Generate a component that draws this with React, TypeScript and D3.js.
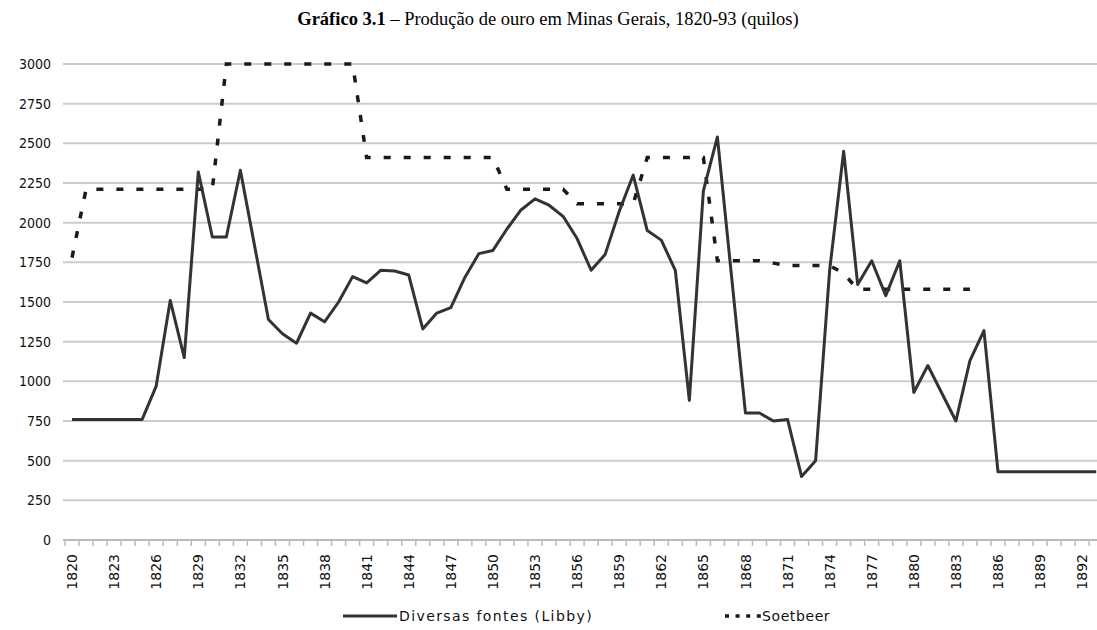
import React from 'react';
import * as d3 from 'd3';

// Years on the category axis
const years = d3.range(1820, 1894);

// Diversas fontes (Libby), kilos, 1820-1893
const libby = [
  760, 760, 760, 760, 760, 760, 970, 1510, 1150, 2320,
  1910, 1910, 2330, 1860, 1390, 1300, 1240, 1430, 1375, 1500,
  1660, 1620, 1700, 1695, 1670, 1330, 1430, 1465, 1655, 1805,
  1825, 1960, 2080, 2150, 2110, 2040, 1900, 1700, 1800, 2070,
  2300, 1950, 1890, 1700, 880, 2200, 2540, 1670, 800, 800,
  750, 760, 400, 500, 1700, 2450, 1610, 1760, 1540, 1760,
  930, 1100, 925, 750, 1130, 1320, 430, 430, 430, 430,
  430, 430, 430, 430,
];

// Soetbeer, kilos, 1820-1884 (no data afterwards)
const soetbeer: (number | null)[] = [
  1780, 2210, 2210, 2210, 2210, 2210, 2210, 2210, 2210, 2210,
  2210, 3000, 3000, 3000, 3000, 3000, 3000, 3000, 3000, 3000,
  3000, 2410, 2410, 2410, 2410, 2410, 2410, 2410, 2410, 2410,
  2410, 2210, 2210, 2210, 2210, 2210, 2120, 2120, 2120, 2120,
  2120, 2410, 2410, 2410, 2410, 2410, 1760, 1760, 1760, 1760,
  1745, 1730, 1730, 1730, 1730, 1680, 1580, 1580, 1580, 1580,
  1580, 1580, 1580, 1580, 1580,
];

const yTicks = d3.range(0, 3001, 250);
const labelYears = years.filter((y) => (y - 1820) % 3 === 0);

const W = 1097;
const H = 630;
const plotLeft = 65;
const band = 14.03;

export default function App() {
  const x = d3
    .scaleBand<number>()
    .domain(years)
    .range([plotLeft, plotLeft + band * years.length])
    .padding(0);
  const y = d3.scaleLinear().domain([0, 3000]).range([540, 64]);
  const cx = (yr: number) => (x(yr) as number) + x.bandwidth() / 2;

  const line = d3
    .line<number | null>()
    .defined((d) => d != null)
    .x((_, i) => cx(years[i]))
    .y((d) => y(d as number));

  const tickFont = "'DejaVu Sans', sans-serif";
  const narrowFont = "'Liberation Sans Narrow', 'DejaVu Sans Condensed', 'Liberation Sans', sans-serif";
  const xRight = plotLeft + band * years.length;

  return (
    <svg
      width={W}
      height={H}
      style={{ position: 'absolute', left: 0, top: 0, background: '#fff' }}
    >
      <text
        x={548}
        y={25}
        textAnchor="middle"
        fontFamily="'Liberation Serif', 'Times New Roman', serif"
        fontSize={18.5}
        fill="#000"
      >
        <tspan fontWeight="bold">Gráfico 3.1</tspan>
        <tspan> – Produção de ouro em Minas Gerais, 1820-93 (quilos)</tspan>
      </text>

      {/* gridlines */}
      {yTicks.filter((t) => t > 0).map((t) => (
        <line key={t} x1={63} x2={xRight} y1={y(t)} y2={y(t)} stroke="#cccccc" strokeWidth={2} />
      ))}
      {/* category axis */}
      <line x1={63} x2={xRight} y1={y(0)} y2={y(0)} stroke="#bbbbbb" strokeWidth={2} />
      {d3.range(years.length + 1).map((i) => (
        <line
          key={i}
          x1={plotLeft + i * x.bandwidth()}
          x2={plotLeft + i * x.bandwidth()}
          y1={y(0)}
          y2={y(0) + 6}
          stroke="#bbbbbb"
          strokeWidth={1.5}
        />
      ))}

      {yTicks.map((t) => (
        <text
          key={t}
          x={51}
          y={y(t)}
          dy="0.36em"
          textAnchor="end"
          fontFamily={narrowFont}
          fontSize={14}
          fill="#111"
        >
          {t}
        </text>
      ))}

      {labelYears.map((yr) => (
        <text
          key={yr}
          transform={`translate(${cx(yr)},${554}) rotate(-90)`}
          dy="0.36em"
          textAnchor="end"
          fontFamily={tickFont}
          fontSize={14}
          fill="#111"
        >
          {yr}
        </text>
      ))}

      <path
        d={line(soetbeer) || ''}
        fill="none"
        stroke="#1a1a1a"
        strokeWidth={3.5}
        strokeDasharray="7 13"
      />
      <path
        d={line(libby) || ''}
        fill="none"
        stroke="#333333"
        strokeWidth={3}
        strokeLinejoin="round"
      />

      {/* legend */}
      <line x1={343} x2={397} y1={616} y2={616} stroke="#333333" strokeWidth={3} />
      <text x={399} y={616} dy="0.36em" fontFamily={tickFont} fontSize={14} letterSpacing={1.4} fill="#111">
        Diversas fontes (Libby)
      </text>
      <line
        x1={725}
        x2={761}
        y1={616}
        y2={616}
        stroke="#1a1a1a"
        strokeWidth={3.5}
        strokeDasharray="4 6.6"
      />
      <text x={762} y={616} dy="0.36em" fontFamily={tickFont} fontSize={14} letterSpacing={0.6} fill="#111">
        Soetbeer
      </text>
    </svg>
  );
}
